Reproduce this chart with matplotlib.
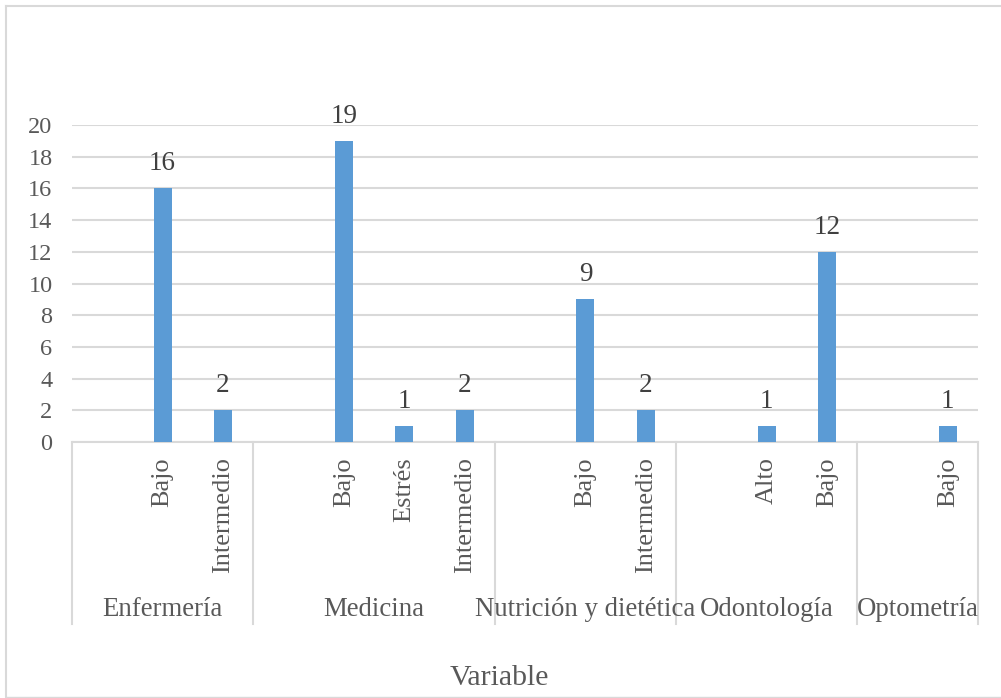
import matplotlib.pyplot as plt
from matplotlib.lines import Line2D

groups = ["Enfermería", "Medicina", "Nutrición y dietética", "Odontología", "Optometría"]
levels = [["", "Bajo", "Intermedio"],
          ["", "Bajo", "Estrés", "Intermedio"],
          ["", "Bajo", "Intermedio"],
          ["", "Alto", "Bajo"],
          ["", "Bajo"]]
values = [[None, 16, 2],
          [None, 19, 1, 2],
          [None, 9, 2],
          [None, 1, 12],
          [None, 1]]
yticks = list(range(0, 21, 2))

grey = "#595959"
line_grey = "#D9D9D9"
bar_col = "#5B9BD5"
font = "Liberation Serif"

W, H = 1001, 698
fig = plt.figure(figsize=(W / 100, H / 100), dpi=100)
ax = fig.add_axes([72 / W, 1 - 442 / H, (978 - 72) / W, (442 - 125) / H])

# flatten slots
xs, vals, labs, bounds = [], [], [], [-0.5]
i = 0
for lv, vv in zip(levels, values):
    for l, v in zip(lv, vv):
        xs.append(i)
        vals.append(v)
        labs.append(l)
        i += 1
    bounds.append(i - 0.5)
n = i

bx = [x for x, v in zip(xs, vals) if v is not None]
bv = [v for v in vals if v is not None]
bars = ax.bar(bx, bv, width=0.3, color=bar_col, zorder=3)
for x, v in zip(bx, bv):
    ax.annotate(str(v), (x, v), xytext=(0, 13), textcoords="offset points",
                ha="center", va="baseline", fontsize=19.5, color="#404040", family=font)

ax.set_xlim(-0.5, n - 0.5)
ax.set_ylim(0, 20)
ax.set_yticks(yticks)
ax.set_yticklabels([str(t) for t in yticks], fontsize=17.5, color=grey, family=font)
ax.tick_params(axis="y", length=0, pad=14)
ax.set_xticks([])
ax.grid(axis="y", color=line_grey, linewidth=1.5, zorder=0)
for s in ["top", "right", "left"]:
    ax.spines[s].set_visible(False)
ax.spines["bottom"].set_color(line_grey)
ax.spines["bottom"].set_linewidth(1.5)

# sub-category labels
trans = ax.get_xaxis_transform()
for x, l in zip(xs, labs):
    if l:
        ax.text(x, -15 / 317, l, transform=trans, rotation=90, ha="center", va="top",
                fontsize=19, color=grey, family=font)

# group separators and group labels
for b in bounds:
    ax.add_line(Line2D([b, b], [0, -(624 - 442) / 317], transform=trans, color=line_grey,
                       linewidth=1.5, clip_on=False))
for g, a, b in zip(groups, bounds[:-1], bounds[1:]):
    ax.text((a + b) / 2, -(610 - 442) / 317, g, transform=trans, ha="center", va="center",
            fontsize=19.3, color=grey, family=font)

fig.text(499 / W, 1 - 678 / H, "Variable", ha="center", va="center", fontsize=21.5,
         color=grey, family=font)

# chart border
fig.add_artist(Line2D([6 / W, 6 / W], [1 - 6 / H, 1 - 697 / H], transform=fig.transFigure,
                      color=line_grey, linewidth=1.5))
fig.add_artist(Line2D([6 / W, 1], [1 - 6 / H, 1 - 6 / H], transform=fig.transFigure,
                      color=line_grey, linewidth=1.5))
fig.add_artist(Line2D([6 / W, 1], [1 - 697 / H, 1 - 697 / H], transform=fig.transFigure,
                      color=line_grey, linewidth=1.0))

fig.savefig("out.png", dpi=100)
